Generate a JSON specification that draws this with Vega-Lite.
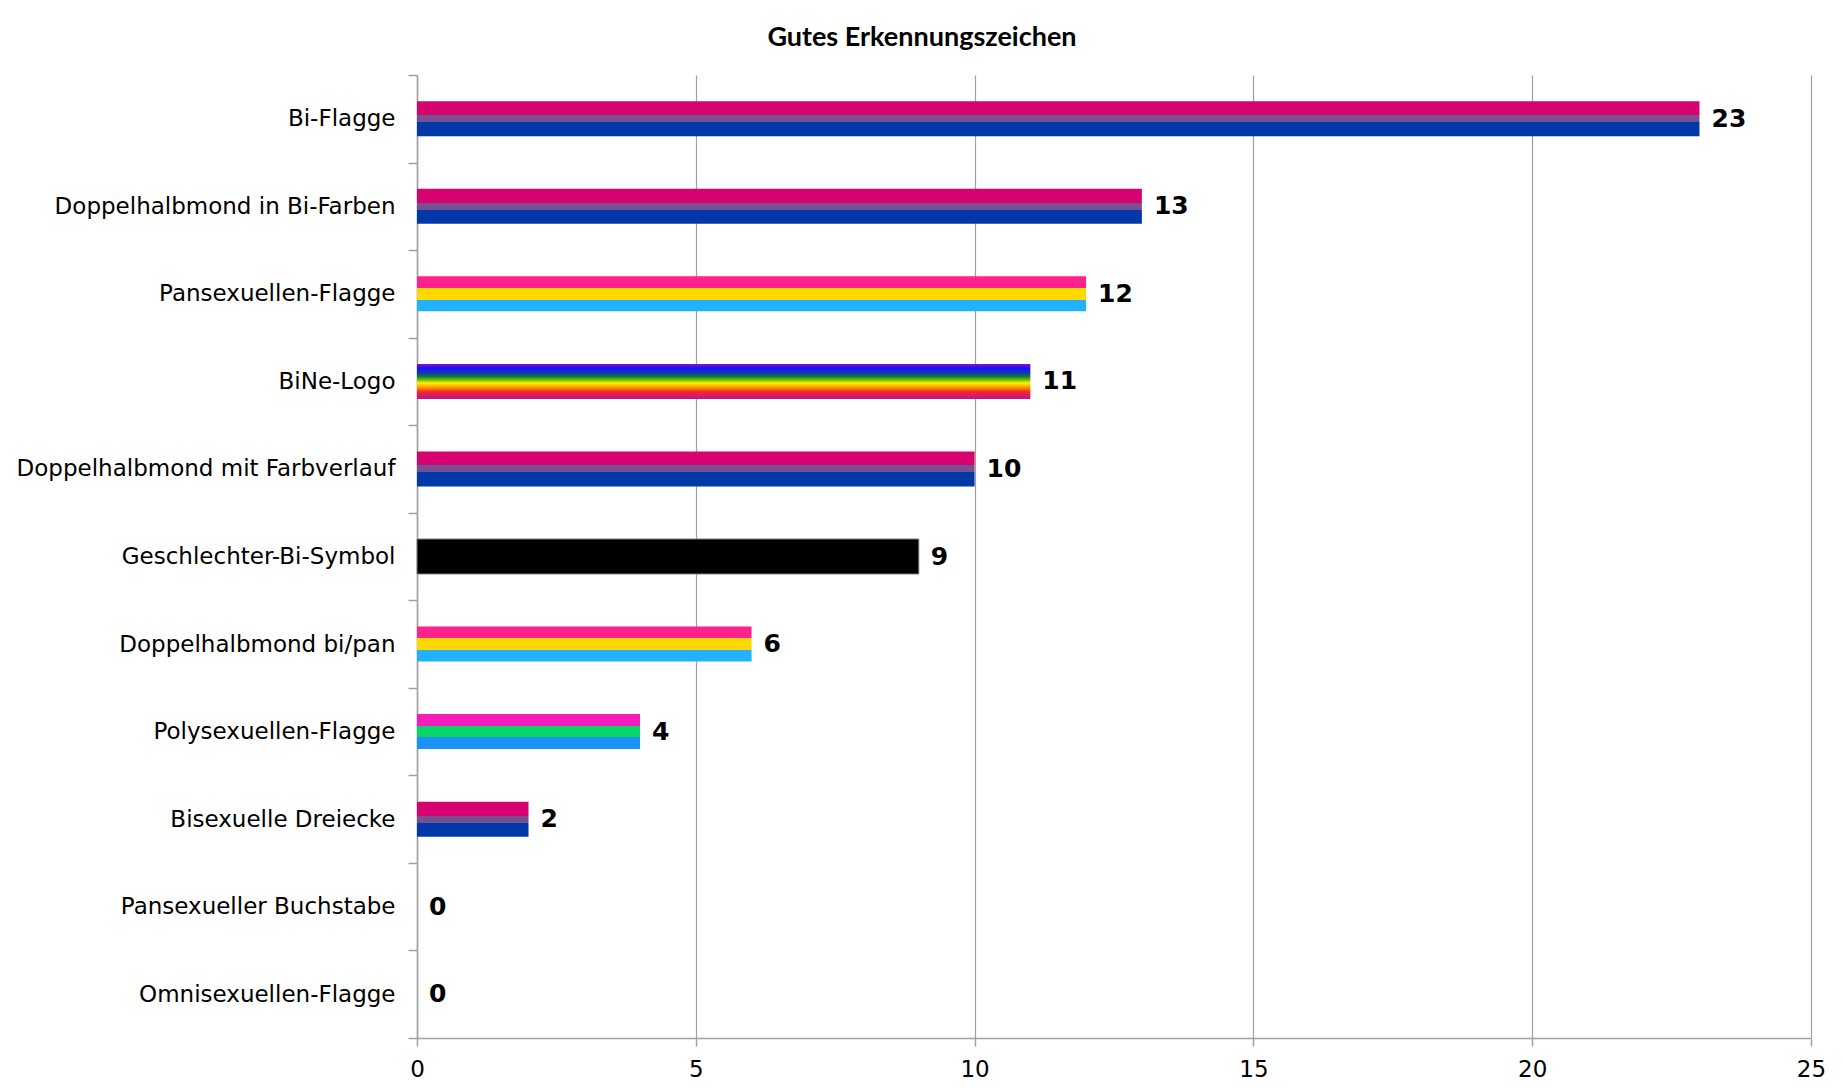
{
  "$schema": "https://vega.github.io/schema/vega-lite/v6.json",
  "autosize": {"type": "none"},
  "padding": {"left": 417, "top": 75, "right": 32, "bottom": 50},
  "width": 1394,
  "height": 963,
  "background": "white",
  "title": {
    "text": "Gutes Erkennungszeichen",
    "font": "Lato",
    "fontSize": 27,
    "fontWeight": "bold",
    "color": "#000000",
    "anchor": "middle",
    "frame": "group",
    "dx": -192,
    "offset": 12
  },
  "config": {
    "view": {"stroke": null},
    "axis": {
      "labelFont": "DejaVu Sans",
      "labelFontSize": 23,
      "labelColor": "#000000",
      "domainColor": "#a0a0a0",
      "domainWidth": 1.5,
      "tickColor": "#a0a0a0",
      "tickWidth": 1.5,
      "gridColor": "#a0a0a0",
      "gridWidth": 1.2,
      "title": null
    }
  },
  "data": {
    "values": [
      {"label": "Bi-Flagge", "value": 23, "flag": "bi"},
      {"label": "Doppelhalbmond in Bi-Farben", "value": 13, "flag": "bi"},
      {"label": "Pansexuellen-Flagge", "value": 12, "flag": "pan"},
      {"label": "BiNe-Logo", "value": 11, "flag": "rainbow"},
      {"label": "Doppelhalbmond mit Farbverlauf", "value": 10, "flag": "bi"},
      {"label": "Geschlechter-Bi-Symbol", "value": 9, "flag": "black"},
      {"label": "Doppelhalbmond bi/pan", "value": 6, "flag": "pan"},
      {"label": "Polysexuellen-Flagge", "value": 4, "flag": "poly"},
      {"label": "Bisexuelle Dreiecke", "value": 2, "flag": "bi"},
      {"label": "Pansexueller Buchstabe", "value": 0, "flag": "none"},
      {"label": "Omnisexuellen-Flagge", "value": 0, "flag": "none"}
    ]
  },
  "encoding": {
    "y": {
      "field": "label",
      "type": "nominal",
      "sort": null,
      "scale": {
        "domain": ["Bi-Flagge", "Doppelhalbmond in Bi-Farben", "Pansexuellen-Flagge", "BiNe-Logo", "Doppelhalbmond mit Farbverlauf", "Geschlechter-Bi-Symbol", "Doppelhalbmond bi/pan", "Polysexuellen-Flagge", "Bisexuelle Dreiecke", "Pansexueller Buchstabe", "Omnisexuellen-Flagge"],
        "paddingInner": 0,
        "paddingOuter": 0
      },
      "axis": {
        "tickBand": "extent",
        "tickSize": 9,
        "labelPadding": 13,
        "grid": false,
        "labelLimit": 500
      }
    },
    "x": {
      "field": "value",
      "type": "quantitative",
      "scale": {"domain": [0, 25], "nice": false},
      "axis": {
        "values": [0, 5, 10, 15, 20, 25],
        "grid": true,
        "tickSize": 8,
        "labelPadding": 12,
        "labelFlush": false
      }
    }
  },
  "layer": [
    {
      "transform": [{"filter": "datum.flag === 'bi'"}],
      "mark": {
        "type": "bar",
        "height": {"band": 0.4},
        "fill": {
          "gradient": "linear", "x1": 0, "y1": 0, "x2": 0, "y2": 1,
          "stops": [
            {"offset": 0, "color": "#D60270"},
            {"offset": 0.4, "color": "#D60270"},
            {"offset": 0.4, "color": "#775094"},
            {"offset": 0.6, "color": "#775094"},
            {"offset": 0.6, "color": "#0038A8"},
            {"offset": 1, "color": "#0038A8"}
          ]
        }
      }
    },
    {
      "transform": [{"filter": "datum.flag === 'pan'"}],
      "mark": {
        "type": "bar",
        "height": {"band": 0.4},
        "fill": {
          "gradient": "linear", "x1": 0, "y1": 0, "x2": 0, "y2": 1,
          "stops": [
            {"offset": 0, "color": "#FF218C"},
            {"offset": 0.333, "color": "#FF218C"},
            {"offset": 0.333, "color": "#FFD800"},
            {"offset": 0.667, "color": "#FFD800"},
            {"offset": 0.667, "color": "#21B1FF"},
            {"offset": 1, "color": "#21B1FF"}
          ]
        }
      }
    },
    {
      "transform": [{"filter": "datum.flag === 'rainbow'"}],
      "mark": {
        "type": "bar",
        "height": {"band": 0.4},
        "fill": {
          "gradient": "linear", "x1": 0, "y1": 0, "x2": 0, "y2": 1,
          "stops": [
            {"offset": 0, "color": "#8E0FC8"},
            {"offset": 0.12, "color": "#1C10F0"},
            {"offset": 0.25, "color": "#1030D0"},
            {"offset": 0.36, "color": "#157A20"},
            {"offset": 0.45, "color": "#60C010"},
            {"offset": 0.55, "color": "#FFF200"},
            {"offset": 0.68, "color": "#FF9000"},
            {"offset": 0.8, "color": "#F02828"},
            {"offset": 1, "color": "#C0109E"}
          ]
        }
      }
    },
    {
      "transform": [{"filter": "datum.flag === 'black'"}],
      "mark": {
        "type": "bar",
        "height": {"band": 0.4},
        "fill": "#000000",
        "stroke": "#808080",
        "strokeWidth": 1
      }
    },
    {
      "transform": [{"filter": "datum.flag === 'poly'"}],
      "mark": {
        "type": "bar",
        "height": {"band": 0.4},
        "fill": {
          "gradient": "linear", "x1": 0, "y1": 0, "x2": 0, "y2": 1,
          "stops": [
            {"offset": 0, "color": "#F61CB9"},
            {"offset": 0.333, "color": "#F61CB9"},
            {"offset": 0.333, "color": "#07D569"},
            {"offset": 0.667, "color": "#07D569"},
            {"offset": 0.667, "color": "#1C92F6"},
            {"offset": 1, "color": "#1C92F6"}
          ]
        }
      }
    },
    {
      "mark": {
        "type": "text",
        "align": "left",
        "baseline": "middle",
        "dx": 12,
        "font": "DejaVu Sans",
        "fontSize": 25,
        "fontWeight": "bold",
        "color": "#000000"
      },
      "encoding": {
        "text": {"field": "value", "type": "quantitative"}
      }
    }
  ]
}
